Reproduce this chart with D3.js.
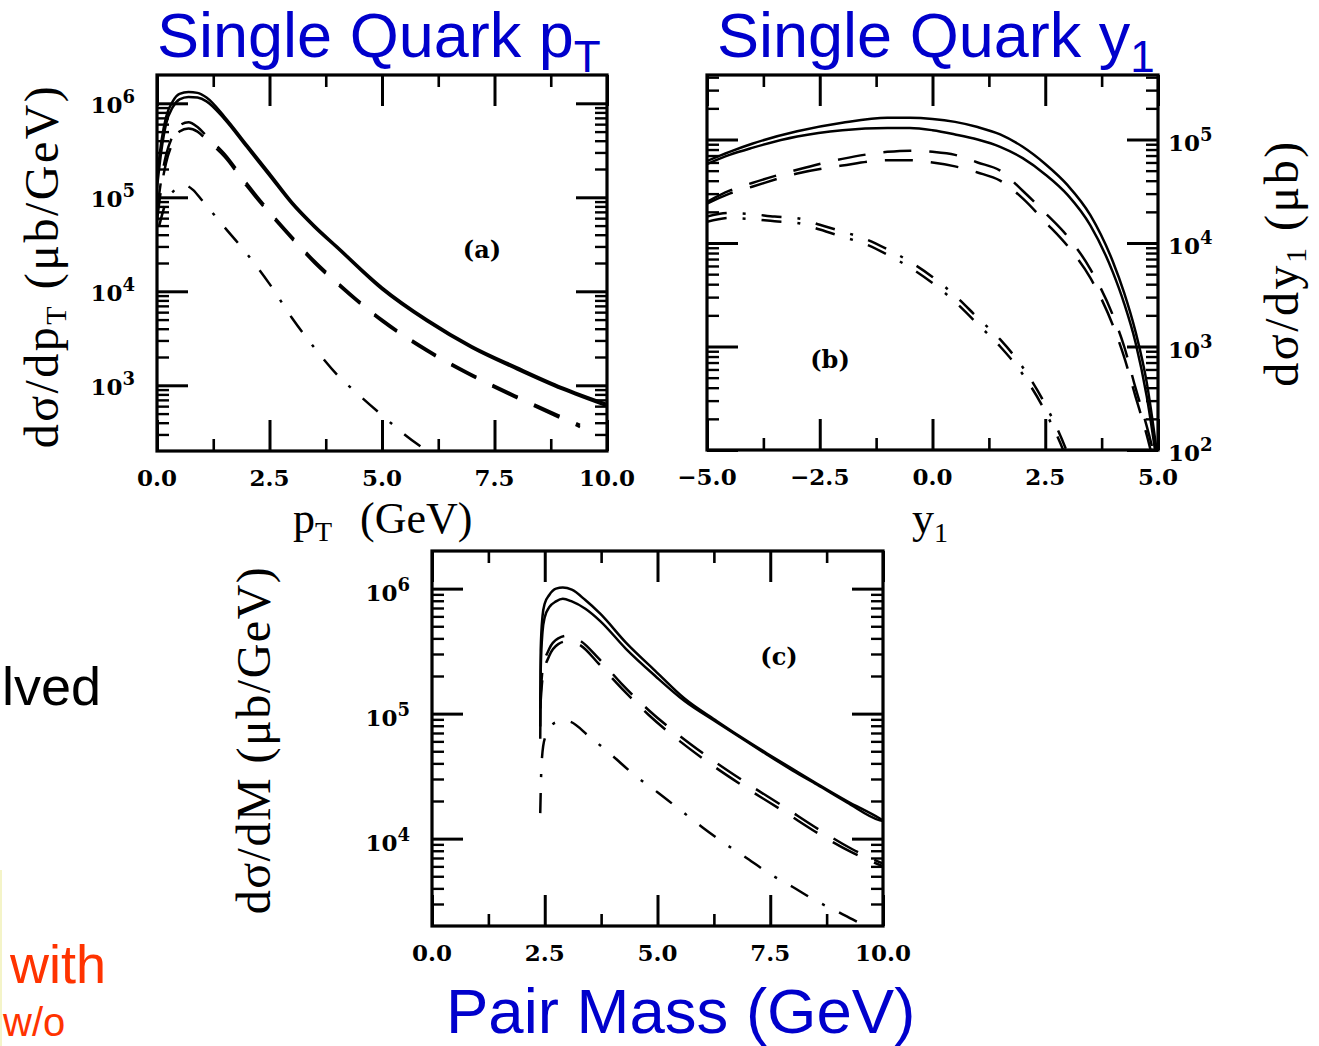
<!DOCTYPE html>
<html><head><meta charset="utf-8">
<script src="https://cdn.jsdelivr.net/npm/d3@7"></script>
<style>body{margin:0;background:#fff}svg{display:block}</style>
</head><body>
<svg id="chart" width="1319" height="1046"></svg>
<script>
// ---------- Panel (a): single quark pT ----------
const ptGrid = [0, 0.1, 0.2, 0.35, 0.5, 0.7, 0.9, 1.1, 1.5, 2.0, 2.5, 3.0, 3.5, 4.0, 5.0, 6.0, 7.0, 8.0, 9.0, 10.0];
const ptSolid1 = [1.6e5, 4.0e5, 7.1e5, 1.05e6, 1.26e6, 1.32e6, 1.29e6, 1.15e6, 7.2e5, 3.6e5, 1.8e5, 8.9e4, 5.0e4, 3.0e4, 1.1e4, 5.0e3, 2.6e3, 1.55e3, 9.5e2, 6.3e2];
const ptSolid2 = [1.26e5, 3.2e5, 6.0e5, 9.1e5, 1.1e6, 1.17e6, 1.15e6, 1.05e6, 6.8e5, 3.4e5, 1.7e5, 8.5e4, 4.8e4, 2.9e4, 1.05e4, 4.8e3, 2.5e3, 1.48e3, 9.1e2, 6.0e2];
const ptDashGrid = [0, 0.1, 0.2, 0.35, 0.5, 0.7, 0.9, 1.1, 1.5, 2.0, 2.5, 3.0, 3.5, 4.0, 5.0, 6.0, 7.0, 8.0, 9.0, 9.4];
const ptDashed1 = [7.1e4, 1.6e5, 2.8e5, 4.5e5, 5.8e5, 6.3e5, 5.6e5, 4.5e5, 2.9e5, 1.4e5, 7.1e4, 3.8e4, 2.1e4, 1.26e4, 5.0e3, 2.4e3, 1.3e3, 7.6e2, 4.6e2, 3.8e2];
const ptDashed2 = [5.6e4, 1.3e5, 2.3e5, 3.8e5, 5.0e5, 5.4e5, 5.0e5, 4.1e5, 2.7e5, 1.3e5, 6.7e4, 3.6e4, 2.0e4, 1.2e4, 4.8e3, 2.3e3, 1.25e3, 7.3e2, 4.4e2, 3.6e2];
const ptDotGrid = [0.05, 0.2, 0.4, 0.6, 0.8, 1.0, 1.5, 2.0, 2.5, 3.0, 3.5, 4.0, 4.5, 5.0, 5.5, 6.0, 6.3];
const ptDashDot = [5.0e4, 8.9e4, 1.2e5, 1.35e5, 1.2e5, 9.3e4, 4.8e4, 2.5e4, 1.2e4, 5.2e3, 2.5e3, 1.3e3, 7.8e2, 4.8e2, 3.0e2, 2.0e2, 1.6e2];

// ---------- Panel (b): single quark rapidity y1 ----------
const yGrid = [-5, -4.5, -4, -3, -2, -1, -0.5, 0, 0.5, 1, 1.5, 2, 2.5, 3, 3.5, 4, 4.25, 4.5, 4.75, 5];
const ySolid1 = [6.2e4, 7.6e4, 9.1e4, 1.2e5, 1.45e5, 1.62e5, 1.62e5, 1.58e5, 1.48e5, 1.32e5, 1.12e5, 8.5e4, 5.8e4, 3.6e4, 1.86e4, 6.6e3, 3.3e3, 1.4e3, 4.5e2, 7.9e1];
const ySolid2 = [5.8e4, 7.1e4, 8.3e4, 1.07e5, 1.23e5, 1.29e5, 1.29e5, 1.23e5, 1.12e5, 1.0e5, 8.5e4, 6.6e4, 4.6e4, 2.9e4, 1.48e4, 5.2e3, 2.6e3, 1.1e3, 3.3e2, 6.3e1];
const yDashed1 = [2.5e4, 3.2e4, 3.8e4, 5.1e4, 6.5e4, 7.6e4, 7.8e4, 7.6e4, 7.1e4, 6.0e4, 5.0e4, 3.2e4, 1.95e4, 1.15e4, 5.6e3, 2.0e3, 1.0e3, 4.0e2, 1.7e2, 6.3e1];
const yDashed2 = [2.4e4, 3.0e4, 3.5e4, 4.7e4, 5.6e4, 6.3e4, 6.3e4, 6.0e4, 5.5e4, 4.8e4, 4.0e4, 2.7e4, 1.6e4, 9.3e3, 4.6e3, 1.6e3, 7.9e2, 3.3e2, 1.4e2, 5.0e1];
const yDotGrid = [-5, -4.5, -4, -3.5, -3, -2.5, -2, -1.5, -1, -0.5, 0, 0.5, 1, 1.5, 2, 2.5, 3, 3.2];
const yDashDot1 = [1.8e4, 1.95e4, 1.9e4, 1.8e4, 1.74e4, 1.5e4, 1.29e4, 1.1e4, 8.7e3, 6.6e3, 4.7e3, 3.1e3, 1.9e3, 1.17e3, 6.3e2, 2.75e2, 9.1e1, 5.0e1];
const yDashDot2 = [1.6e4, 1.75e4, 1.7e4, 1.62e4, 1.56e4, 1.35e4, 1.15e4, 9.8e3, 7.7e3, 5.8e3, 4.1e3, 2.7e3, 1.65e3, 1.0e3, 5.4e2, 2.35e2, 7.6e1, 4.1e1];

// ---------- Panel (c): pair mass ----------
const mGrid = [2.4, 2.41, 2.45, 2.5, 2.6, 2.75, 2.9, 3.1, 3.4, 3.73, 4.3, 4.95, 5.6, 6.32, 7.0, 7.43, 8.0, 8.54, 9.2, 9.93, 10];
const mSolid1 = [7.9e4, 3.2e5, 6.0e5, 7.6e5, 8.9e5, 1.0e6, 1.02e6, 9.8e5, 8.1e5, 6.3e5, 3.7e5, 2.2e5, 1.32e5, 8.7e4, 6.0e4, 4.8e4, 3.6e4, 2.75e4, 2.0e4, 1.45e4, 1.4e4];
const mSolid2 = [6.3e4, 2.2e5, 4.5e5, 5.9e5, 7.1e5, 7.9e5, 8.3e5, 7.9e5, 6.9e5, 5.5e5, 3.3e5, 2.0e5, 1.26e5, 8.5e4, 5.9e4, 4.7e4, 3.5e4, 2.7e4, 1.95e4, 1.4e4, 1.38e4];
const mDashGrid = [2.4, 2.45, 2.6, 2.8, 3.0, 3.3, 3.7, 4.2, 4.8, 5.5, 6.2, 7.0, 7.8, 8.6, 9.3, 10];
const mDashed1 = [1.26e5, 2.2e5, 3.3e5, 4.0e5, 4.2e5, 3.8e5, 2.75e5, 1.74e5, 1.07e5, 6.6e4, 4.3e4, 2.75e4, 1.8e4, 1.17e4, 8.3e3, 6.3e3];
const mDashed2 = [1.1e5, 1.9e5, 2.9e5, 3.6e5, 3.8e5, 3.5e5, 2.5e5, 1.6e5, 9.8e4, 6.0e4, 3.9e4, 2.5e4, 1.65e4, 1.08e4, 7.8e3, 6.0e3];
const mDotGrid = [2.4, 2.43, 2.5, 2.75, 3.0, 3.5, 4.0, 4.5, 5.0, 5.5, 6.0, 6.5, 7.0, 7.5, 8.0, 8.5, 9.0, 9.5, 10];
const mDashDot = [1.6e4, 4.0e4, 6.3e4, 8.5e4, 8.7e4, 6.5e4, 4.6e4, 3.2e4, 2.35e4, 1.7e4, 1.23e4, 9.1e3, 6.9e3, 5.2e3, 4.1e3, 3.2e3, 2.6e3, 2.1e3, 1.74e3];

// ---------- ticks ----------
const xMajorA = [0, 2.5, 5, 7.5, 10];
const xMinorA = [1.25, 3.75, 6.25, 8.75];
const xMajorB = [-5, -2.5, 0, 2.5, 5];
const xMinorB = [-3.75, -1.25, 1.25, 3.75];
const yDecadesA = [1e3, 1e4, 1e5, 1e6];
const yDecadesB = [1e2, 1e3, 1e4, 1e5];
const yDecadesC = [1e4, 1e5, 1e6];

const svg = d3.select("#chart");
svg.append("rect").attr("width", 1319).attr("height", 1046).attr("fill", "#fff");

const SOLID = null, DASHED = "28,18", DASHDOT = "20,16,3,16";
const tickFont = "'DejaVu Serif', serif";

function minorLog(domain) {
  const out = [];
  const lo = Math.floor(Math.log10(domain[0])), hi = Math.ceil(Math.log10(domain[1]));
  for (let e = lo; e <= hi; e++) for (let k = 2; k <= 9; k++) {
    const v = k * Math.pow(10, e);
    if (v > domain[0] && v < domain[1]) out.push(v);
  }
  return out;
}

function panel(p) {
  const g = svg.append("g");
  const x = d3.scaleLinear().domain(p.xDomain).range([p.left, p.right]);
  const y = d3.scaleLog().domain(p.yDomain).range([p.bottom, p.top]);
  const cid = "clip" + p.id;
  svg.append("clipPath").attr("id", cid).append("rect")
    .attr("x", p.left).attr("y", p.top).attr("width", p.right - p.left).attr("height", p.bottom - p.top);
  const cg = g.append("g").attr("clip-path", `url(#${cid})`);
  p.series.forEach(s => {
    const line = d3.line().x((d, i) => x(s.x[i])).y(d => y(d)).curve(d3.curveMonotoneX);
    cg.append("path").datum(s.y).attr("d", line).attr("fill", "none")
      .attr("stroke", "#000").attr("stroke-width", 2.5)
      .attr("stroke-dasharray", s.dash);
  });
  const mk = (fn, scale, vals, size, tr, w) => {
    const a = g.append("g").attr("transform", tr)
      .call(fn(scale).tickValues(vals).tickSize(size).tickFormat(""));
    a.select(".domain").remove();
    a.selectAll("line").attr("stroke", "#000").attr("stroke-width", w);
  };
  mk(d3.axisBottom, x, p.xMajor, -31, `translate(0,${p.bottom})`, 3);
  mk(d3.axisBottom, x, p.xMinor, -12, `translate(0,${p.bottom})`, 2.6);
  mk(d3.axisTop, x, p.xMajor, -31, `translate(0,${p.top})`, 3);
  mk(d3.axisTop, x, p.xMinor, -12, `translate(0,${p.top})`, 2.6);
  const yMinor = minorLog(p.yDomain);
  mk(d3.axisLeft, y, p.yMajor, -31, `translate(${p.left},0)`, 3);
  mk(d3.axisLeft, y, yMinor, -12, `translate(${p.left},0)`, 2.4);
  mk(d3.axisRight, y, p.yMajor, -31, `translate(${p.right},0)`, 3);
  mk(d3.axisRight, y, yMinor, -12, `translate(${p.right},0)`, 2.4);
  g.append("rect").attr("x", p.left).attr("y", p.top)
    .attr("width", p.right - p.left).attr("height", p.bottom - p.top)
    .attr("fill", "none").attr("stroke", "#000").attr("stroke-width", 3.2);
  // x tick labels
  g.selectAll(null).data(p.xMajor).enter().append("text")
    .attr("x", d => x(d)).attr("y", p.bottom + 35)
    .attr("text-anchor", "middle").attr("font-family", tickFont).attr("font-weight", "bold")
    .attr("font-size", 23).text(d => d3.format(".1f")(d));
  // y tick labels
  p.yMajor.forEach(v => {
    const e = Math.round(Math.log10(v));
    const t = g.append("text").attr("font-family", tickFont).attr("font-weight", "bold")
      .attr("font-size", 23).attr("y", y(v) + p.labDy);
    if (p.yLabelRight) t.attr("x", p.right + 10).attr("text-anchor", "start");
    else t.attr("x", p.left - 22).attr("text-anchor", "end");
    t.append("tspan").text("10");
    t.append("tspan").attr("font-size", 18).attr("dy", -10).text(String(e));
  });
  // panel tag
  g.append("text").attr("x", p.tag[0]).attr("y", p.tag[1]).attr("text-anchor", "middle")
    .attr("font-family", tickFont).attr("font-weight", "bold").attr("font-size", 24).text(p.tag[2]);
  return {x, y};
}

panel({
  id: "a", xDomain: [0, 10], yDomain: [200, 2e6], left: 157, right: 607, top: 75, bottom: 451,
  xMajor: xMajorA, xMinor: xMinorA, yMajor: yDecadesA, yLabelRight: false, labDy: 10,
  tag: [482, 258, "(a)"],
  series: [
    {x: ptGrid, y: ptSolid1, dash: SOLID}, {x: ptGrid, y: ptSolid2, dash: SOLID},
    {x: ptDashGrid, y: ptDashed1, dash: DASHED}, {x: ptDashGrid, y: ptDashed2, dash: DASHED},
    {x: ptDotGrid, y: ptDashDot, dash: DASHDOT}
  ]
});
panel({
  id: "b", xDomain: [-5, 5], yDomain: [100, 4.2e5], left: 707, right: 1158, top: 75, bottom: 450,
  xMajor: xMajorB, xMinor: xMinorB, yMajor: yDecadesB, yLabelRight: true, labDy: 11,
  tag: [830, 368, "(b)"],
  series: [
    {x: yGrid, y: ySolid1, dash: SOLID}, {x: yGrid, y: ySolid2, dash: SOLID},
    {x: yGrid, y: yDashed1, dash: DASHED}, {x: yGrid, y: yDashed2, dash: DASHED},
    {x: yDotGrid, y: yDashDot1, dash: DASHDOT}, {x: yDotGrid, y: yDashDot2, dash: DASHDOT}
  ]
});
panel({
  id: "c", xDomain: [0, 10], yDomain: [2e3, 2e6], left: 432, right: 883, top: 551, bottom: 926,
  xMajor: xMajorA, xMinor: xMinorA, yMajor: yDecadesC, yLabelRight: false, labDy: 12,
  tag: [779, 665, "(c)"],
  series: [
    {x: mGrid, y: mSolid1, dash: SOLID}, {x: mGrid, y: mSolid2, dash: SOLID},
    {x: mDashGrid, y: mDashed1, dash: DASHED}, {x: mDashGrid, y: mDashed2, dash: DASHED},
    {x: mDotGrid, y: mDashDot, dash: DASHDOT}
  ]
});

// ---------- axis titles ----------
const serif = "'Liberation Serif', 'Times New Roman', serif";
function rotLabel(cx, cy, parts, ls) {
  const t = svg.append("text").attr("transform", `translate(${cx},${cy}) rotate(-90)`)
    .attr("text-anchor", "middle").attr("font-family", serif).attr("font-size", 48)
    .attr("letter-spacing", ls).attr("fill", "#000");
  parts.forEach(pt => {
    const s = t.append("tspan").text(pt[0]);
    if (pt[1]) s.attr("font-size", pt[1]);
    if (pt[2]) s.attr("dy", pt[2]);
  });
}
rotLabel(58, 266, [["dσ/dp"], ["T", 30, 8], ["\u00a0(μb/GeV)", 48, -8]], 2.5);
rotLabel(1298, 263, [["dσ/dy"], ["1", 30, 8], ["\u00a0(μb)", 48, -8]], 2.5);
rotLabel(270, 740, [["dσ/dM\u00a0(μb/GeV)"]], 1.5);

const xl = svg.append("text").attr("x", 293).attr("y", 533).attr("font-family", serif).attr("font-size", 44);
xl.append("tspan").text("p");
xl.append("tspan").attr("font-size", 28).attr("dy", 8).text("T");
xl.append("tspan").attr("x", 360).attr("dy", -8).text("(GeV)");
const yl = svg.append("text").attr("x", 912).attr("y", 533).attr("font-family", serif).attr("font-size", 44);
yl.append("tspan").text("y");
yl.append("tspan").attr("font-size", 28).attr("dy", 9).text("1");

// ---------- blue slide titles ----------
const sans = "'Liberation Sans', Arial, sans-serif";
const blue = "#0000CC";
const t1 = svg.append("text").attr("x", 157).attr("y", 57).attr("font-family", sans).attr("font-size", 63).attr("fill", blue);
t1.append("tspan").text("Single Quark p");
t1.append("tspan").attr("font-size", 44).attr("dy", 15).text("T");
const t2 = svg.append("text").attr("x", 717).attr("y", 57).attr("font-family", sans).attr("font-size", 63).attr("fill", blue);
t2.append("tspan").text("Single Quark y");
t2.append("tspan").attr("font-size", 44).attr("dy", 15).text("1");
svg.append("text").attr("x", 446).attr("y", 1033).attr("font-family", sans).attr("font-size", 63.5).attr("fill", blue).text("Pair Mass (GeV)");

// ---------- slide fragments on the left ----------
svg.append("rect").attr("x", 0).attr("y", 870).attr("width", 2).attr("height", 176).attr("fill", "#F4F4C8");
svg.append("text").attr("x", 2).attr("y", 705).attr("font-family", sans).attr("font-size", 54).attr("fill", "#000").text("lved");
svg.append("text").attr("x", 10).attr("y", 983).attr("font-family", sans).attr("font-size", 54).attr("fill", "#FF3300").text("with");
svg.append("text").attr("x", 3).attr("y", 1036).attr("font-family", sans).attr("font-size", 40).attr("fill", "#FF3300").text("w/o");
</script>
</body></html>
